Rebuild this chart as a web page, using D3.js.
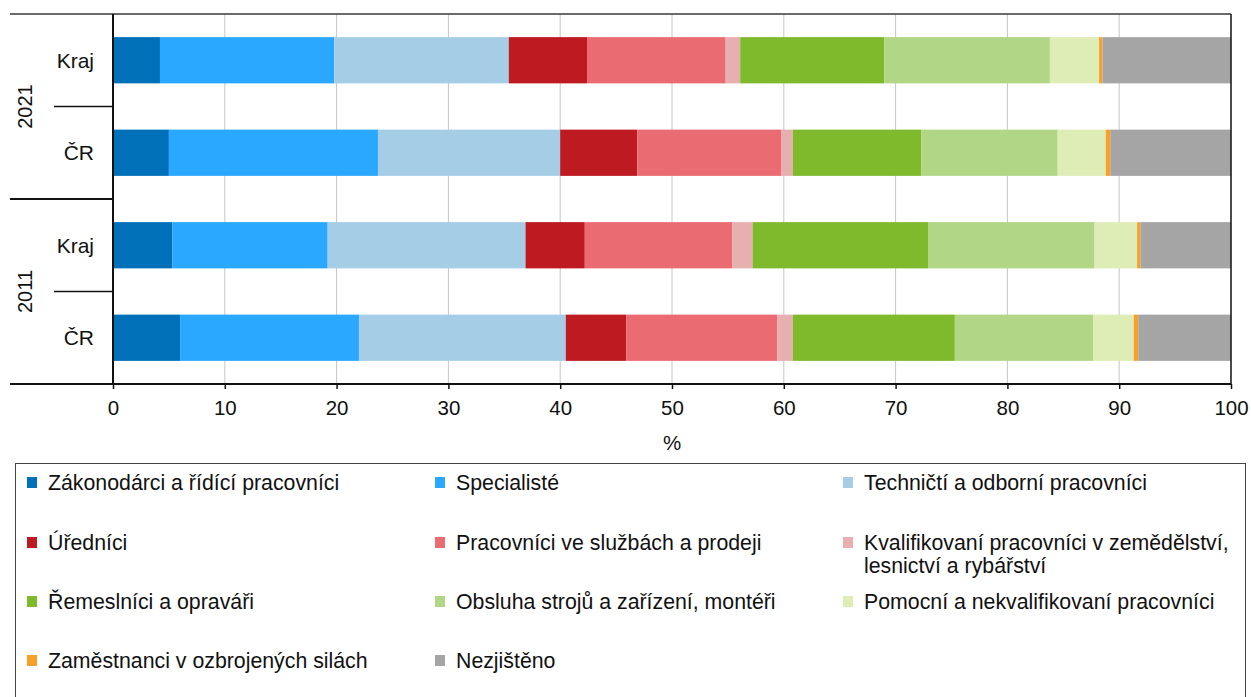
<!DOCTYPE html>
<html>
<head>
<meta charset="utf-8">
<script src="https://cdn.jsdelivr.net/npm/d3@7"></script>
<style>
  html, body { margin: 0; padding: 0; background: #fff; }
  svg { display: block; font-family: "Liberation Sans", Arial, sans-serif; }
</style>
</head>
<body>
<div id="chart"></div>
<script>
/* Occupation groups (series) and their colours */
const groups = [
  "Zákonodárci a řídící pracovníci",
  "Specialisté",
  "Techničtí a odborní pracovníci",
  "Úředníci",
  "Pracovníci ve službách a prodeji",
  "Kvalifikovaní pracovníci v zemědělství, lesnictví a rybářství",
  "Řemeslníci a opraváři",
  "Obsluha strojů a zařízení, montéři",
  "Pomocní a nekvalifikovaní pracovníci",
  "Zaměstnanci v ozbrojených silách",
  "Nezjištěno"
];
const groupColors = [
  "#0070b9", "#2aa8ff", "#a6cde6", "#be1a22", "#eb6b72", "#e8afb1",
  "#7fba2d", "#b1d685", "#deedb5", "#f7a12b", "#a5a5a5"
];

/* Row labels */
const years = ["2021", "2011"];
const areas = ["Kraj", "ČR"];

/* Shares in % */
const kraj2021 = [4.2, 15.6, 15.6, 7.0, 12.4, 1.3, 12.9, 14.8, 4.4, 0.3, 11.5];
const cr2021   = [5.0, 18.7, 16.3, 6.9, 12.9, 1.0, 11.5, 12.2, 4.3, 0.4, 10.8];
const kraj2011 = [5.3, 13.9, 17.7, 5.3, 13.2, 1.8, 15.7, 14.9, 3.8, 0.3, 8.1];
const cr2011   = [6.0, 16.0, 18.5, 5.4, 13.5, 1.4, 14.5, 12.4, 3.6, 0.4, 8.3];

/* X axis ticks */
const xTicks = [0, 10, 20, 30, 40, 50, 60, 70, 80, 90, 100];

/* Build table for d3.stack */
const rows = [
  { key: "2021-Kraj", year: "2021", area: "Kraj", values: kraj2021 },
  { key: "2021-ČR", year: "2021", area: "ČR", values: cr2021 },
  { key: "2011-Kraj", year: "2011", area: "Kraj", values: kraj2011 },
  { key: "2011-ČR", year: "2011", area: "ČR", values: cr2011 }
];
const table = rows.map(r => {
  const o = { key: r.key, year: r.year, area: r.area };
  groups.forEach((g, i) => o[g] = r.values[i]);
  return o;
});

const width = 1251, height = 697;
const margins = { top: 14, right: 20, bottom: 313, left: 113 };
const font = "Liberation Sans, Arial, sans-serif";

const svg = d3.select("#chart")
  .append("svg")
  .attr("width", width)
  .attr("height", height);

/* Scales */
const x = d3.scaleLinear()
  .domain([0, 100])
  .range([margins.left, 1231]);

const y = d3.scaleBand()
  .domain(rows.map(r => r.key))
  .range([margins.top, height - margins.bottom])
  .paddingInner(0.5)
  .paddingOuter(0.25);

const plotTop = margins.top, plotBottom = height - margins.bottom;

/* Gridlines */
svg.append("g")
  .selectAll("line")
  .data(xTicks.filter(d => d > 0 && d < 100))
  .join("line")
    .attr("x1", d => x(d)).attr("x2", d => x(d))
    .attr("y1", plotTop).attr("y2", plotBottom)
    .attr("stroke", "#c6c6c6")
    .attr("stroke-width", 1);

/* Stacked bars */
const stacked = d3.stack().keys(groups)(table);

svg.append("g")
  .selectAll("g")
  .data(stacked)
  .join("g")
    .attr("fill", (d, i) => groupColors[i])
  .selectAll("rect")
  .data(d => d)
  .join("rect")
    .attr("x", d => x(d[0]))
    .attr("y", d => y(d.data.key))
    .attr("width", d => x(d[1]) - x(d[0]))
    .attr("height", y.bandwidth());

/* Plot frame: top and right */
svg.append("line")
  .attr("x1", 10).attr("x2", x(100))
  .attr("y1", plotTop).attr("y2", plotTop)
  .attr("stroke", "#3a3a3a").attr("stroke-width", 1.5);
svg.append("line")
  .attr("x1", x(100)).attr("x2", x(100))
  .attr("y1", plotTop).attr("y2", plotBottom)
  .attr("stroke", "#111").attr("stroke-width", 1.5);

/* Bottom axis */
const xAxis = svg.append("g")
  .attr("transform", `translate(0,${plotBottom})`)
  .call(d3.axisBottom(x).tickValues(xTicks).tickSize(5).tickPadding(11).tickFormat(d3.format("d")));
xAxis.select(".domain").remove();
xAxis.selectAll(".tick line").attr("stroke", "#111").attr("stroke-width", 1.5);
xAxis.selectAll(".tick text")
  .attr("font-size", "20.5px")
  .attr("font-family", font)
  .attr("fill", "#111");

svg.append("line")
  .attr("x1", 10).attr("x2", x(100))
  .attr("y1", plotBottom).attr("y2", plotBottom)
  .attr("stroke", "#111").attr("stroke-width", 2);

/* Left axis line */
svg.append("line")
  .attr("x1", x(0)).attr("x2", x(0))
  .attr("y1", plotTop).attr("y2", plotBottom)
  .attr("stroke", "#111").attr("stroke-width", 2);

/* Group separators on the left */
const step = y.step();
years.forEach((yr, i) => {
  const gTop = plotTop + i * 2 * step;
  const mid = gTop + step;
  // short line between Kraj and ČR
  svg.append("line")
    .attr("x1", 54).attr("x2", x(0))
    .attr("y1", mid).attr("y2", mid)
    .attr("stroke", "#111").attr("stroke-width", 1.5);
  if (i > 0) {
    svg.append("line")
      .attr("x1", 10).attr("x2", x(0))
      .attr("y1", gTop).attr("y2", gTop)
      .attr("stroke", "#111").attr("stroke-width", 2);
  }
  // year label
  svg.append("text")
    .attr("transform", `translate(32,${mid}) rotate(-90)`)
    .attr("text-anchor", "middle")
    .attr("font-size", "20px")
    .attr("fill", "#111")
    .text(yr);
});

/* Row labels */
svg.append("g")
  .selectAll("text")
  .data(rows)
  .join("text")
    .attr("x", 94)
    .attr("y", d => y(d.key) + y.bandwidth() / 2)
    .attr("dy", "0.35em")
    .attr("text-anchor", "end")
    .attr("font-size", "21px")
    .attr("fill", "#111")
    .text(d => d.area);

/* Axis title */
svg.append("text")
  .attr("x", (x(0) + x(100)) / 2)
  .attr("y", 443)
  .attr("dy", "0.35em")
  .attr("text-anchor", "middle")
  .attr("font-size", "20.5px")
  .attr("fill", "#111")
  .text("%");

/* Legend */
svg.append("rect")
  .attr("x", 15.5).attr("y", 463.5)
  .attr("width", 1230).attr("height", 260)
  .attr("fill", "none")
  .attr("stroke", "#444")
  .attr("stroke-width", 1);

const colX = [27, 435, 843];
const rowY = [483, 543, 602, 661];

const legend = svg.append("g")
  .selectAll("g")
  .data(groups)
  .join("g")
    .attr("transform", (d, i) => `translate(${colX[i % 3]},${rowY[Math.floor(i / 3)]})`);

legend.append("rect")
  .attr("x", 0).attr("y", -6)
  .attr("width", 10).attr("height", 11)
  .attr("fill", (d, i) => groupColors[i]);

legend.append("text")
  .attr("x", 21)
  .attr("font-size", "21.3px")
  .attr("fill", "#111")
  .each(function(d) {
    const t = d3.select(this);
    const lines = d === groups[5]
      ? ["Kvalifikovaní pracovníci v zemědělství,", "lesnictví a rybářství"]
      : [d];
    lines.forEach((ln, k) => {
      t.append("tspan")
        .attr("x", 21)
        .attr("y", k * 23)
        .attr("dy", "0.35em")
        .text(ln);
    });
  });
</script>
</body>
</html>
